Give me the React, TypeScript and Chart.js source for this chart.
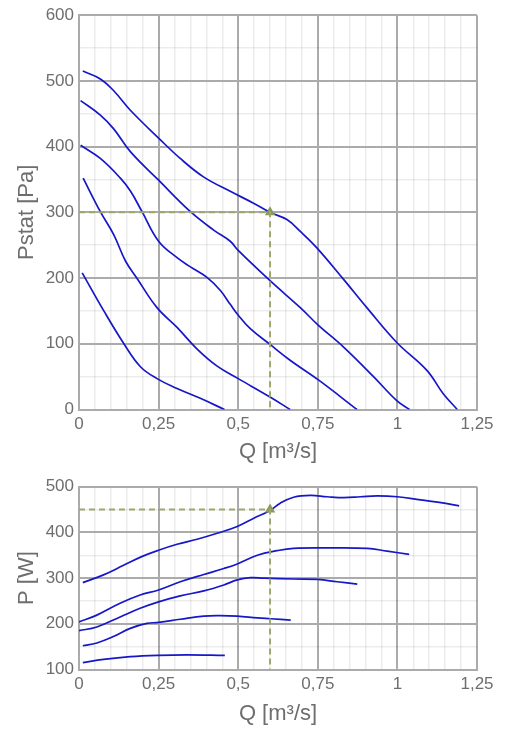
import React, { useEffect, useRef } from 'react';
import { Chart, registerables } from 'chart.js';

Chart.register(...registerables);

// ---------- tick labels ----------
const xTickLabels = ['0', '0,25', '0,5', '0,75', '1', '1,25'];
const pTickLabels = ['0', '100', '200', '300', '400', '500', '600'];
const wTickLabels = ['100', '200', '300', '400', '500'];

// ---------- Pstat curves (Q [m3/s], Pstat [Pa]) ----------
const q1 = [0.012, 0.067, 0.109, 0.162, 0.25, 0.318, 0.391, 0.475, 0.548, 0.6, 0.653, 0.695, 0.747, 0.831, 0.904, 0.998, 1.092, 1.144, 1.188];
const p1 = [515, 503, 485, 455, 413, 382, 354, 332, 314, 300, 289, 271, 246, 198, 155, 102, 60, 24, 0];
const q2 = [0.005, 0.067, 0.109, 0.162, 0.25, 0.35, 0.423, 0.475, 0.5, 0.6, 0.695, 0.752, 0.831, 0.925, 0.999, 1.038];
const p2 = [470, 448, 427, 392, 349, 301, 273, 256, 242, 196, 155, 128, 95, 50, 13, 0];
const q3 = [0.005, 0.067, 0.13, 0.162, 0.198, 0.25, 0.308, 0.35, 0.402, 0.444, 0.475, 0.501, 0.538, 0.6, 0.663, 0.752, 0.873];
const p3 = [402, 382, 352, 332, 301, 256, 231, 217, 201, 181, 160, 143, 123, 99, 75, 45, 0];
const q4 = [0.013, 0.067, 0.109, 0.146, 0.183, 0.245, 0.308, 0.371, 0.434, 0.5, 0.6, 0.663];
const p4 = [352, 301, 266, 226, 199, 155, 125, 92, 66, 47, 19, 0];
const q5 = [0.01, 0.078, 0.141, 0.193, 0.245, 0.308, 0.381, 0.457];
const p5 = [208, 150, 100, 65, 47, 32, 17, 0];

// ---------- Power curves (Q [m3/s], P [W]) ----------
const qa = [0.012, 0.077, 0.14, 0.197, 0.25, 0.308, 0.371, 0.434, 0.497, 0.549, 0.6, 0.632, 0.674, 0.727, 0.779, 0.832, 0.884, 0.937, 1.0, 1.073, 1.147, 1.194];
const wa = [290, 307, 328, 347, 361, 374, 385, 398, 413, 431, 448, 464, 477, 481, 478, 476, 478, 480, 478, 471, 464, 458];
const qb = [0, 0.056, 0.129, 0.192, 0.25, 0.318, 0.392, 0.455, 0.497, 0.56, 0.622, 0.674, 0.779, 0.905, 0.968, 1.037];
const wb = [204, 219, 245, 263, 274, 292, 308, 321, 331, 350, 360, 365, 366, 365, 359, 352];
const qc = [0, 0.056, 0.129, 0.192, 0.25, 0.318, 0.392, 0.455, 0.497, 0.539, 0.581, 0.674, 0.75, 0.811, 0.874];
const wc = [185, 193, 215, 234, 248, 261, 272, 285, 296, 301, 300, 298, 297, 292, 287];
const qd = [0.012, 0.056, 0.108, 0.161, 0.213, 0.25, 0.318, 0.392, 0.444, 0.497, 0.56, 0.602, 0.665];
const wd = [152, 158, 172, 190, 201, 203, 210, 217, 218, 217, 213, 211, 208];
const qe = [0.012, 0.077, 0.161, 0.25, 0.339, 0.458];
const we = [115, 122, 128, 131, 132, 131];

// ---------- operating point ----------
const opQ = 0.6;
const opPstat = 300;
const opPower = 450;

const MAJOR = '#ababab';
const MINOR = 'rgba(0,0,0,0.075)';
const TEXT = '#6e6e6e';
const CURVE = '#1717c8';
const OLIVE = '#9fa66c';
const MARK = '#8a9a5b';
const FONT = "'Liberation Sans', Arial, sans-serif";

const zip = (xs: number[], ys: number[]) => xs.map((x, i) => ({ x, y: ys[i] }));

function curveSet(list: [number[], number[]][]) {
  return list.map(([xs, ys]) => ({
    type: 'line' as const,
    data: zip(xs, ys),
    borderColor: CURVE,
    borderWidth: 1.7,
    pointRadius: 0,
    fill: false,
    tension: 0.4,
  }));
}

function opSets(yVal: number, yMin: number) {
  return [
    {
      type: 'line' as const,
      data: [
        { x: 0, y: yVal },
        { x: opQ, y: yVal },
        { x: opQ, y: yMin },
      ],
      borderColor: OLIVE,
      borderWidth: 2,
      borderDash: [6, 4],
      pointRadius: 0,
      tension: 0,
      fill: false,
    },
    {
      type: 'scatter' as const,
      data: [{ x: opQ, y: yVal }],
      pointStyle: 'triangle',
      pointRadius: 6,
      backgroundColor: MARK,
      borderColor: MARK,
      borderWidth: 0,
    },
  ];
}

function makeOptions(opts: {
  yMin: number;
  yMax: number;
  yTitle: string;
  yLabels: string[];
  padTop: number;
  xAxisH: number;
  xTitlePadBottom: number;
}) {
  return {
    responsive: false,
    animation: false as const,
    events: [],
    layout: { padding: { left: 0, right: 46, top: opts.padTop, bottom: 0 } },
    plugins: { legend: { display: false }, tooltip: { enabled: false } },
    scales: {
      x: {
        type: 'linear' as const,
        min: 0,
        max: 1.25,
        afterFit: (s: any) => {
          s.height = opts.xAxisH;
        },
        ticks: {
          stepSize: 0.05,
          autoSkip: false,
          maxRotation: 0,
          padding: 5,
          color: TEXT,
          font: { family: FONT, size: 17 },
          callback: (_v: any, i: number) => (i % 5 === 0 ? xTickLabels[i / 5] : ''),
        },
        grid: {
          drawTicks: false,
          color: (c: any) => (c.index % 5 === 0 ? MAJOR : MINOR),
          lineWidth: (c: any) => (c.index % 5 === 0 ? 2 : 1.5),
        },
        border: { color: MAJOR, width: 2 },
        title: {
          display: true,
          text: 'Q [m³/s]',
          color: TEXT,
          font: { family: FONT, size: 22 },
          padding: { top: 0, bottom: opts.xTitlePadBottom },
        },
      },
      y: {
        type: 'linear' as const,
        min: opts.yMin,
        max: opts.yMax,
        afterFit: (s: any) => {
          s.width = 79;
        },
        ticks: {
          stepSize: 50,
          autoSkip: false,
          padding: 5,
          color: TEXT,
          font: { family: FONT, size: 17 },
          callback: (_v: any, i: number) => (i % 2 === 0 ? opts.yLabels[i / 2] : ''),
        },
        grid: {
          drawTicks: false,
          color: (c: any) => (c.index % 2 === 0 ? MAJOR : MINOR),
          lineWidth: (c: any) => (c.index % 2 === 0 ? 2 : 1.5),
        },
        border: { color: MAJOR, width: 2 },
        title: {
          display: true,
          text: opts.yTitle,
          color: TEXT,
          font: { family: FONT, size: 22 },
          padding: { top: 14, bottom: 0 },
        },
      },
    },
  };
}

export default function App() {
  const topRef = useRef<HTMLCanvasElement | null>(null);
  const botRef = useRef<HTMLCanvasElement | null>(null);

  useEffect(() => {
    Chart.defaults.font.family = FONT;
    const top = new Chart(topRef.current as HTMLCanvasElement, {
      type: 'line',
      data: {
        datasets: [
          ...opSets(opPstat, 0),
          ...curveSet([
            [q1, p1],
            [q2, p2],
            [q3, p3],
            [q4, p4],
            [q5, p5],
          ]),
        ] as any,
      },
      options: makeOptions({
        yMin: 0,
        yMax: 600,
        yTitle: 'Pstat [Pa]',
        yLabels: pTickLabels,
        padTop: 12.5,
        xAxisH: 56.5,
        xTitlePadBottom: 1,
      }) as any,
    });
    const bot = new Chart(botRef.current as HTMLCanvasElement, {
      type: 'line',
      data: {
        datasets: [
          ...opSets(opPower, 100),
          ...curveSet([
            [qa, wa],
            [qb, wb],
            [qc, wc],
            [qd, wd],
            [qe, we],
          ]),
        ] as any,
      },
      options: makeOptions({
        yMin: 100,
        yMax: 500,
        yTitle: 'P [W]',
        yLabels: wTickLabels,
        padTop: 16.7,
        xAxisH: 66.5,
        xTitlePadBottom: 9,
      }) as any,
    });
    return () => {
      top.destroy();
      bot.destroy();
    };
  }, []);

  return (
    <div style={{ position: 'absolute', left: 0, top: 0, width: 523, height: 736, background: '#fff' }}>
      <canvas
        ref={topRef}
        width={523}
        height={466}
        style={{ position: 'absolute', left: 0, top: 0, width: 523, height: 466 }}
      />
      <canvas
        ref={botRef}
        width={523}
        height={266}
        style={{ position: 'absolute', left: 0, top: 470, width: 523, height: 266 }}
      />
    </div>
  );
}
